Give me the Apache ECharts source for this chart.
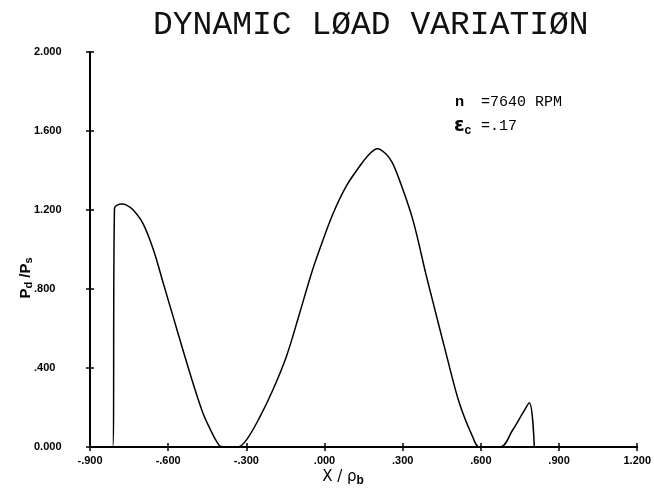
<!DOCTYPE html>
<html>
<head>
<meta charset="utf-8">
<script src="https://cdn.jsdelivr.net/npm/echarts@6/dist/echarts.min.js"></script>
<style>
html,body{margin:0;padding:0;background:#fff;}
#chart{width:654px;height:493px;}
</style>
</head>
<body>
<div id="chart"></div>
<script>
// ---- data ----
var xVals = [-0.900, -0.813, -0.806, -0.795, -0.779, -0.760, -0.734, -0.696, -0.657, -0.619,
             -0.581, -0.543, -0.504, -0.466, -0.435, -0.415, -0.398, -0.333, -0.300, -0.249,
             -0.198, -0.146, -0.095, -0.050, -0.019, 0.032, 0.083, 0.134, 0.170, 0.203,
             0.235, 0.260, 0.288, 0.339, 0.390, 0.415, 0.467, 0.518, 0.569, 0.594,
             0.674, 0.722, 0.760, 0.786, 0.805];
var yVals = [0.000, 0.000, 1.210, 1.225, 1.230, 1.225, 1.200, 1.130, 1.000, 0.830,
             0.660, 0.490, 0.320, 0.170, 0.080, 0.030, 0.003, 0.000, 0.035, 0.150,
             0.290, 0.460, 0.680, 0.880, 1.000, 1.180, 1.320, 1.420, 1.480, 1.510,
             1.485, 1.440, 1.350, 1.150, 0.870, 0.740, 0.470, 0.220, 0.050, 0.000,
             0.000, 0.086, 0.170, 0.224, 0.000];
var xTickLabels = ['-.900', '-.600', '-.300', '.000', '.300', '.600', '.900', '1.200'];
var yTickLabels = ['0.000', '.400', '.800', '1.200', '1.600', '2.000'];
var titleText = 'DYNAMIC LØAD VARIATIØN';
var speedText = '=7640 RPM';
var eccText = '=.17';

var X_MIN = -0.9, X_MAX = 1.2, X_INT = 0.3;
var Y_MIN = 0, Y_MAX = 2.0, Y_INT = 0.4;

var seriesData = xVals.map(function (x, i) { return [x, yVals[i]]; });

function xFmt(v) { var i = Math.round((v - X_MIN) / X_INT); return xTickLabels[i] || ''; }
function yFmt(v) { var i = Math.round((v - Y_MIN) / Y_INT); return yTickLabels[i] || ''; }

var chart = echarts.init(document.getElementById('chart'), null, {renderer: 'canvas'});
var axisLine = {show: true, onZero: false, lineStyle: {color: '#000', width: 2}};

var option = {
  backgroundColor: '#fff',
  animation: false,
  grid: {left: 90, right: 16, top: 52, bottom: 46},
  xAxis: [{
    type: 'value', min: X_MIN, max: X_MAX, interval: X_INT,
    axisLine: axisLine,
    axisTick: {show: true, length: 4, lineStyle: {color: '#000', width: 1.5}},
    axisLabel: {formatter: xFmt, color: '#000', fontFamily: 'Liberation Sans', fontWeight: 'bold', fontSize: 11, margin: 8},
    splitLine: {show: false}
  }, {
    type: 'value', min: X_MIN, max: X_MAX, interval: X_INT, position: 'bottom',
    axisLine: {show: false, onZero: false},
    axisTick: {show: true, inside: true, length: 4, lineStyle: {color: '#000', width: 1.5}},
    axisLabel: {show: false}, splitLine: {show: false}
  }],
  yAxis: [{
    type: 'value', min: Y_MIN, max: Y_MAX, interval: Y_INT,
    axisLine: axisLine,
    axisTick: {show: true, length: 4, lineStyle: {color: '#000', width: 1.5}},
    axisLabel: {formatter: yFmt, color: '#000', fontFamily: 'Liberation Sans', fontWeight: 'bold', fontSize: 11, margin: 56, align: 'left'},
    splitLine: {show: false}
  }, {
    type: 'value', min: Y_MIN, max: Y_MAX, interval: Y_INT, position: 'left',
    axisLine: {show: false, onZero: false},
    axisTick: {show: true, inside: true, length: 4, lineStyle: {color: '#000', width: 1.5}},
    axisLabel: {show: false}, splitLine: {show: false}
  }],
  series: [{
    type: 'line',
    data: seriesData,
    xAxisIndex: 0, yAxisIndex: 0,
    showSymbol: false,
    smooth: 0.35,
    lineStyle: {color: '#000', width: 1.5}
  }],
  graphic: [
    {type: 'text', x: 153, y: 25,
     style: {text: titleText, font: '33px "Liberation Mono"', fill: '#111', textVerticalAlign: 'middle'}},
    {type: 'text', x: 455, y: 102,
     style: {text: 'n', font: 'bold 15px "Liberation Sans"', fill: '#000', textVerticalAlign: 'middle'}},
    {type: 'text', x: 481, y: 102,
     style: {text: speedText, font: '15px "Liberation Mono"', fill: '#000', textVerticalAlign: 'middle'}},
    {type: 'text', x: 454, y: 126,
     style: {
       text: '{e|ε}{c|c}', fill: '#000', textVerticalAlign: 'middle',
       rich: {e: {font: 'bold 19px "DejaVu Sans"', fill: '#000'},
              c: {font: 'bold 12px "Liberation Sans"', fill: '#000', padding: [10, 0, 0, 0]}}
     }},
    {type: 'text', x: 481, y: 126,
     style: {text: eccText, font: '15px "Liberation Mono"', fill: '#000', textVerticalAlign: 'middle'}},
    {type: 'text', x: 26, y: 278, rotation: Math.PI / 2,
     style: {
       text: '{p|P}{s|d}{p| /P}{s|s}', textAlign: 'center', textVerticalAlign: 'middle',
       rich: {p: {font: 'bold 15px "Liberation Sans"', fill: '#000'},
              s: {font: 'bold 11px "Liberation Sans"', fill: '#000', padding: [6, 0, 0, 0]}}
     }},
    {type: 'text', x: 343, y: 477,
     style: {
       text: '{p|X / ρ}{s|b}', textAlign: 'center', textVerticalAlign: 'middle',
       rich: {p: {font: '15px "DejaVu Sans"', fill: '#000'},
              s: {font: 'bold 12px "Liberation Sans"', fill: '#000', padding: [8, 0, 0, 0]}}
     }}
  ]
};
chart.setOption(option);
</script>
</body>
</html>
